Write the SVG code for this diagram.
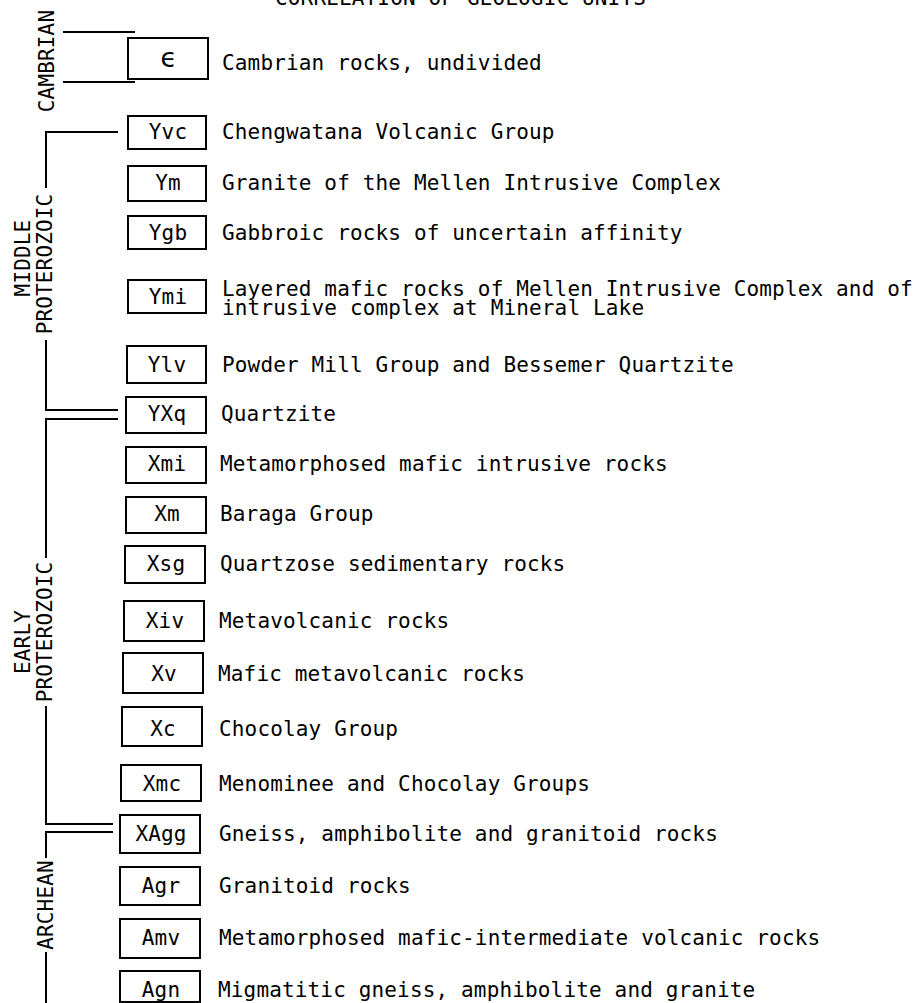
<svg xmlns="http://www.w3.org/2000/svg" width="922" height="1003" viewBox="0 0 922 1003">
<style>
text{font-family:"DejaVu Sans Mono","Liberation Mono",monospace;font-size:21px;letter-spacing:0.15px;fill:#000}
.c{text-anchor:middle}
.v{text-anchor:middle}
rect{fill:#fff;stroke:#000;stroke-width:2}
.ln{fill:none;stroke:#000;stroke-width:2}
</style>
<rect x="0" y="0" width="922" height="1003" style="stroke:none;fill:#fff"/>
<text x="275" y="5">CORRELATION OF GEOLOGIC UNITS</text>
<g id="connectors">
<path class="ln" d="M63 32H135M63 82H135"/>
<path class="ln" d="M118 132H46V188M46 340V410H118M118 419H46V558M46 706V824H113M113 832H46V858M46 952V1003"/>
</g>
<g id="periods">
<text class="v" transform="translate(54,61) rotate(-90)">CAMBRIAN</text>
<text class="v" transform="translate(30,258) rotate(-90)">MIDDLE</text>
<text class="v" transform="translate(52,264) rotate(-90)">PROTEROZOIC</text>
<text class="v" transform="translate(30,642) rotate(-90)">EARLY</text>
<text class="v" transform="translate(52,632) rotate(-90)">PROTEROZOIC</text>
<text class="v" transform="translate(53,905) rotate(-90)">ARCHEAN</text>
</g>
<g id="n-cambrian"><rect x="128" y="38" width="80" height="41"/><text class="c" x="168" y="67" style="font-size:27px">ϵ</text><text x="222" y="70">Cambrian rocks, undivided</text></g>
<g id="n-Yvc"><rect x="128" y="116" width="78" height="33"/><text class="c" x="168" y="139">Yvc</text><text x="222" y="139">Chengwatana Volcanic Group</text></g>
<g id="n-Ym"><rect x="128" y="166" width="78" height="35"/><text class="c" x="168" y="190">Ym</text><text x="222" y="190">Granite of the Mellen Intrusive Complex</text></g>
<g id="n-Ygb"><rect x="128" y="216" width="78" height="33"/><text class="c" x="168" y="240">Ygb</text><text x="222" y="240">Gabbroic rocks of uncertain affinity</text></g>
<g id="n-Ymi"><rect x="128" y="280" width="78" height="33"/><text class="c" x="168" y="304">Ymi</text><text x="222" y="296">Layered mafic rocks of Mellen Intrusive Complex and of</text><text x="222" y="315">intrusive complex at Mineral Lake</text></g>
<g id="n-Ylv"><rect x="127" y="346" width="79" height="37"/><text class="c" x="167" y="372">Ylv</text><text x="222" y="372">Powder Mill Group and Bessemer Quartzite</text></g>
<g id="n-YXq"><rect x="126" y="397" width="80" height="36"/><text class="c" x="167" y="421">YXq</text><text x="221" y="421">Quartzite</text></g>
<g id="n-Xmi"><rect x="126" y="447" width="80" height="36"/><text class="c" x="167" y="471">Xmi</text><text x="220" y="471">Metamorphosed mafic intrusive rocks</text></g>
<g id="n-Xm"><rect x="126" y="497" width="80" height="36"/><text class="c" x="167" y="521">Xm</text><text x="220" y="521">Baraga Group</text></g>
<g id="n-Xsg"><rect x="125" y="546" width="80" height="37"/><text class="c" x="166" y="571">Xsg</text><text x="220" y="571">Quartzose sedimentary rocks</text></g>
<g id="n-Xiv"><rect x="124" y="601" width="80" height="40"/><text class="c" x="165" y="628">Xiv</text><text x="219" y="628">Metavolcanic rocks</text></g>
<g id="n-Xv"><rect x="123" y="653" width="80" height="40"/><text class="c" x="164" y="681">Xv</text><text x="218" y="681">Mafic metavolcanic rocks</text></g>
<g id="n-Xc"><rect x="122" y="707" width="80" height="39"/><text class="c" x="163" y="736">Xc</text><text x="219" y="736">Chocolay Group</text></g>
<g id="n-Xmc"><rect x="121" y="765" width="80" height="36"/><text class="c" x="162" y="791">Xmc</text><text x="219" y="791">Menominee and Chocolay Groups</text></g>
<g id="n-XAgg"><rect x="120" y="815" width="80" height="38"/><text class="c" x="161" y="841">XAgg</text><text x="219" y="841">Gneiss, amphibolite and granitoid rocks</text></g>
<g id="n-Agr"><rect x="120" y="867" width="80" height="38"/><text class="c" x="161" y="893">Agr</text><text x="219" y="893">Granitoid rocks</text></g>
<g id="n-Amv"><rect x="120" y="919" width="80" height="39"/><text class="c" x="161" y="945">Amv</text><text x="219" y="945">Metamorphosed mafic-intermediate volcanic rocks</text></g>
<g id="n-Agn"><rect x="120" y="971" width="80" height="31"/><text class="c" x="161" y="997">Agn</text><text x="218" y="997">Migmatitic gneiss, amphibolite and granite</text></g>
</svg>
